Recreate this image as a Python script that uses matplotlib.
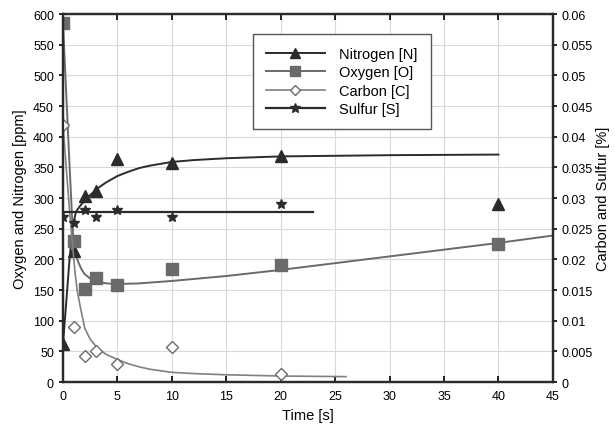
import matplotlib.pyplot as plt
from matplotlib.lines import Line2D

plt.rcParams["font.family"] = ["Liberation Sans", "DejaVu Sans"]

# measured points (left axis: ppm, right axis: %)
t_pts = [0, 1, 2, 3, 5, 10, 20, 40]
nitrogen = [62, 214, 303, 312, 363, 358, 368, 290]
oxygen = [585, 230, 152, 170, 158, 184, 191, 225]

t_c = [0, 1, 2, 3, 5, 10, 20]
carbon = [0.042, 0.009, 0.0042, 0.005, 0.003, 0.0058, 0.0013]
sulfur = [0.027, 0.026, 0.028, 0.027, 0.028, 0.027, 0.029]

# fitted trend lines
n_fit_t = [0, 0.3, 0.6, 0.9, 1.2, 1.6, 2, 2.5, 3, 3.5, 4, 5, 6, 7, 8, 10, 12, 15, 20, 25, 30, 40]
n_fit = [62, 130, 200, 255, 278, 288, 296, 305, 313, 320, 326, 336, 343, 349, 353, 359, 362, 365, 368, 369, 370, 371]

o_fit_t = [0, 0.3, 0.6, 0.9, 1.1, 1.4, 1.7, 2, 2.5, 3, 4, 5, 7, 10, 15, 20, 25, 30, 35, 40, 45]
o_fit = [585, 470, 355, 245, 212, 196, 184, 176, 169, 164, 161, 160, 161, 165, 173, 183, 194, 205, 216, 227, 239]

c_fit_t = [0, 0.3, 0.6, 0.9, 1.1, 1.3, 1.6, 2, 2.5, 3, 3.5, 4, 5, 6, 7, 8, 10, 12, 15, 20, 26]
c_fit = [0.042, 0.035, 0.028, 0.022, 0.018, 0.015, 0.0122, 0.0088, 0.007, 0.0059, 0.0051, 0.0045,
         0.0037, 0.003, 0.0025, 0.0021, 0.0016, 0.0014, 0.0012, 0.001, 0.0009]

s_fit_t = [0, 23]
s_fit = [0.0277, 0.0277]

dark = "#2b2b2b"
grey = "#6a6a6a"
lgrey = "#808080"

fig = plt.figure(figsize=(6.15, 4.31), dpi=100)
ax = fig.add_axes([0.1024, 0.111, 0.7966, 0.854])
ax2 = ax.twinx()

ax.plot(n_fit_t, n_fit, color=dark, lw=1.4)
ax.plot(o_fit_t, o_fit, color=grey, lw=1.4)
ax.plot(t_pts, nitrogen, ls="none", marker="^", ms=8, color=dark)
ax.plot(t_pts, oxygen, ls="none", marker="s", ms=8, color=grey)

ax2.plot(c_fit_t, c_fit, color=lgrey, lw=1.2)
ax2.plot(s_fit_t, s_fit, color=dark, lw=1.6)
ax2.plot(t_c, carbon, ls="none", marker="D", ms=6, mfc="white", mec=grey, mew=1.0)
ax2.plot(t_c, sulfur, ls="none", marker="*", ms=7.5, color=dark)

ax.set_xlim(0, 45)
ax.set_ylim(0, 600)
ax2.set_ylim(0, 0.06)
ax.set_xticks(range(0, 46, 5))
ax.set_yticks(range(0, 601, 50))
ax2.set_yticks([i * 0.005 for i in range(13)])
ax2.set_yticklabels(["0"] + [f"{i * 0.005:g}" for i in range(1, 13)])

ax.grid(True, color="#d9d9d9", lw=0.8)
ax.tick_params(axis="x", direction="in", top=True, labelsize=9, length=4, width=1.2, pad=6)
ax.tick_params(axis="y", direction="out", labelsize=9, length=3, width=1.2)
ax2.tick_params(axis="y", direction="out", labelsize=9, length=3, width=1.2)
for a in (ax, ax2):
    for s in a.spines.values():
        s.set_linewidth(1.6)
        s.set_color(dark)

ax.set_xlabel("Time [s]", fontsize=10.5)
ax.set_ylabel("Oxygen and Nitrogen [ppm]", fontsize=10.5)
ax2.set_ylabel("Carbon and Sulfur [%]", fontsize=10.5, labelpad=2)

handles = [
    Line2D([], [], color=dark, lw=1.4, marker="^", ms=7),
    Line2D([], [], color=grey, lw=1.4, marker="s", ms=7),
    Line2D([], [], color=lgrey, lw=1.2, marker="D", ms=5.5, mfc="white", mec=grey),
    Line2D([], [], color=dark, lw=1.6, marker="*", ms=7),
]
labels = ["Nitrogen [N]", "Oxygen [O]", "Carbon [C]", "Sulfur [S]"]
leg = ax2.legend(handles, labels, loc="upper left", bbox_to_anchor=(0.388, 0.946),
                 fontsize=10.5, frameon=True, fancybox=False, framealpha=1,
                 edgecolor="#555555", handlelength=4, labelspacing=0.3,
                 borderpad=0.9, handletextpad=1.0, borderaxespad=0)
leg.get_frame().set_linewidth(1.0)

fig.savefig("out.png", dpi=100)
